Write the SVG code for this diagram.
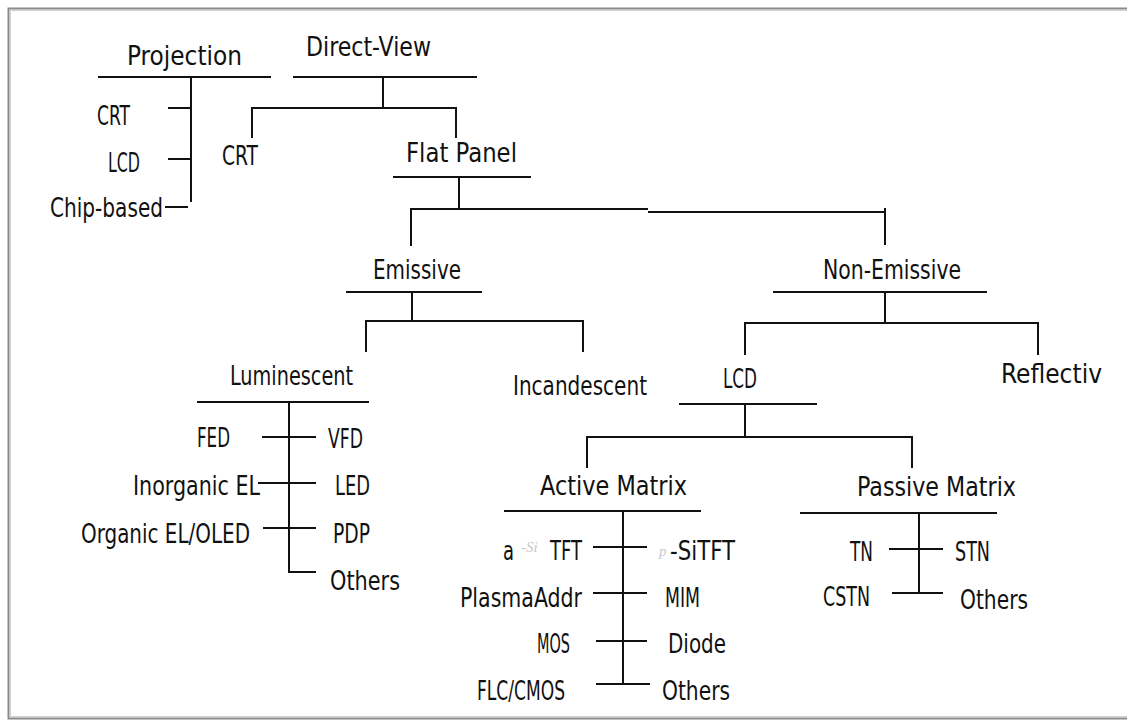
<svg xmlns="http://www.w3.org/2000/svg" width="1127" height="722" viewBox="0 0 1127 722">
<style>
.t{font-family:"DejaVu Sans Condensed","Liberation Sans",sans-serif;font-size:26px;fill:#111;}
.s{font-family:"Liberation Serif",serif;font-style:italic;font-size:15px;fill:#c8c8c8;}
.c{fill:none;stroke:#111;stroke-width:2;}
</style>
<rect width="1127" height="722" fill="#fff"/>
<path d="M1130 8.5 H8.5 V718.5 H1130" fill="none" stroke="#8a8a8a" stroke-width="2"/>
<path d="M1130 10.5 H10.5 V716.5 H1130" fill="none" stroke="#d0d0d0" stroke-width="1"/>
<g id="connectors" class="c">
<path d="M98 77 H271 M191 77 V202 M168 108 H191 M168 159 H191 M165 207 H188"/>
<path d="M293 77 H477 M383 77 V108 M252 138 V108 H456 V138"/>
<path d="M393 177 H531 M459 177 V209 M411 246 V209 H648 M648 212 H885 M885 208 V245"/>
<path d="M346 292 H482 M412 292 V321 M366 352 V321 H583 V352"/>
<path d="M773 292 H987 M885 292 V323 M745 355 V323 H1038 V355"/>
<path d="M197 402 H369 M289 402 V572 H316 M262 437 H316 M258 483 H316 M263 528 H316"/>
<path d="M679 404 H817 M745 404 V437 M587 468 V437 H912 V468"/>
<path d="M504 511 H701 M623 511 V684 M593 547 H647 M593 593 H647 M596 641 H647 M596 684 H650"/>
<path d="M800 513 H997 M919 513 V593 M889 549 H943 M892 593 H943"/>
</g>
<g id="projection"><text class="t" x="127" y="65" textLength="115" lengthAdjust="spacingAndGlyphs">Projection</text></g>
<g id="proj-crt"><text class="t" x="97" y="125" textLength="33" lengthAdjust="spacingAndGlyphs">CRT</text></g>
<g id="proj-lcd"><text class="t" x="108" y="172" textLength="32" lengthAdjust="spacingAndGlyphs">LCD</text></g>
<g id="proj-chip"><text class="t" x="50" y="217" textLength="113" lengthAdjust="spacingAndGlyphs">Chip-based</text></g>
<g id="direct-view"><text class="t" x="306" y="56" textLength="125" lengthAdjust="spacingAndGlyphs">Direct-View</text></g>
<g id="dv-crt"><text class="t" x="222" y="165" textLength="36" lengthAdjust="spacingAndGlyphs">CRT</text></g>
<g id="flat-panel"><text class="t" x="406" y="162" textLength="111" lengthAdjust="spacingAndGlyphs">Flat Panel</text></g>
<g id="emissive"><text class="t" x="373" y="279" textLength="88" lengthAdjust="spacingAndGlyphs">Emissive</text></g>
<g id="non-emissive"><text class="t" x="823" y="279" textLength="138" lengthAdjust="spacingAndGlyphs">Non-Emissive</text></g>
<g id="luminescent"><text class="t" x="230" y="385" textLength="123" lengthAdjust="spacingAndGlyphs">Luminescent</text></g>
<g id="incandescent"><text class="t" x="513" y="395" textLength="134" lengthAdjust="spacingAndGlyphs">Incandescent</text></g>
<g id="lcd"><text class="t" x="723" y="388" textLength="34" lengthAdjust="spacingAndGlyphs">LCD</text></g>
<g id="reflectiv"><text class="t" x="1001" y="383" textLength="101" lengthAdjust="spacingAndGlyphs">Reflectiv</text></g>
<g id="fed"><text class="t" x="197" y="447" textLength="33" lengthAdjust="spacingAndGlyphs">FED</text></g>
<g id="vfd"><text class="t" x="328" y="448" textLength="35" lengthAdjust="spacingAndGlyphs">VFD</text></g>
<g id="inorganic-el"><text class="t" x="133" y="495" textLength="127" lengthAdjust="spacingAndGlyphs">Inorganic EL</text></g>
<g id="led"><text class="t" x="335" y="495" textLength="35" lengthAdjust="spacingAndGlyphs">LED</text></g>
<g id="organic-el"><text class="t" x="81" y="543" textLength="169" lengthAdjust="spacingAndGlyphs">Organic EL/OLED</text></g>
<g id="pdp"><text class="t" x="333" y="543" textLength="37" lengthAdjust="spacingAndGlyphs">PDP</text></g>
<g id="lum-others"><text class="t" x="330" y="590" textLength="70" lengthAdjust="spacingAndGlyphs">Others</text></g>
<g id="active-matrix"><text class="t" x="540" y="495" textLength="147" lengthAdjust="spacingAndGlyphs">Active Matrix</text></g>
<g id="passive-matrix"><text class="t" x="857" y="496" textLength="159" lengthAdjust="spacingAndGlyphs">Passive Matrix</text></g>
<g id="a-si-tft"><text class="t" x="503" y="560" textLength="11" lengthAdjust="spacingAndGlyphs">a</text><text class="s" x="521" y="552">-Si</text><text class="t" x="550" y="560" textLength="32" lengthAdjust="spacingAndGlyphs">TFT</text></g>
<g id="p-si-tft"><text class="s" x="659" y="556">p</text><text class="t" x="670" y="560" textLength="65" lengthAdjust="spacingAndGlyphs">-SiTFT</text></g>
<g id="plasma"><text class="t" x="460" y="607" textLength="122" lengthAdjust="spacingAndGlyphs">PlasmaAddr</text></g>
<g id="mim"><text class="t" x="665" y="607" textLength="35" lengthAdjust="spacingAndGlyphs">MIM</text></g>
<g id="mos"><text class="t" x="537" y="653" textLength="33" lengthAdjust="spacingAndGlyphs">MOS</text></g>
<g id="diode"><text class="t" x="668" y="653" textLength="58" lengthAdjust="spacingAndGlyphs">Diode</text></g>
<g id="flc-cmos"><text class="t" x="477" y="700" textLength="88" lengthAdjust="spacingAndGlyphs">FLC/CMOS</text></g>
<g id="am-others"><text class="t" x="662" y="700" textLength="68" lengthAdjust="spacingAndGlyphs">Others</text></g>
<g id="tn"><text class="t" x="850" y="561" textLength="23" lengthAdjust="spacingAndGlyphs">TN</text></g>
<g id="stn"><text class="t" x="955" y="561" textLength="35" lengthAdjust="spacingAndGlyphs">STN</text></g>
<g id="cstn"><text class="t" x="823" y="606" textLength="47" lengthAdjust="spacingAndGlyphs">CSTN</text></g>
<g id="pm-others"><text class="t" x="960" y="609" textLength="68" lengthAdjust="spacingAndGlyphs">Others</text></g>
</svg>
